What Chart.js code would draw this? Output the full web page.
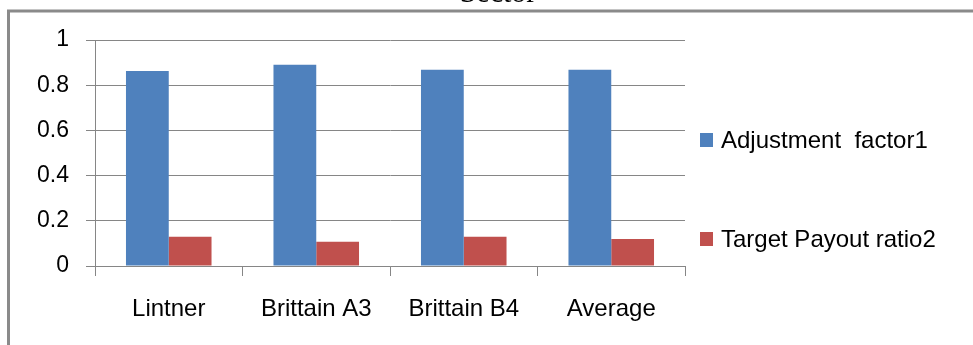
<!DOCTYPE html>
<html>
<head>
<meta charset="utf-8">
<script src="https://cdn.jsdelivr.net/npm/chart.js@4"></script>
<style>
  html, body { margin: 0; padding: 0; background: #fff; }
  #wrap { width: 973px; height: 345px; position: relative; overflow: hidden; }
</style>
</head>
<body>
<div id="wrap"><canvas id="c" width="973" height="345"></canvas></div>
<script>
// Dividend model estimates by method
const categories = ['Lintner', 'Brittain A3', 'Brittain B4', 'Average'];
const adjustmentFactor = [0.863, 0.89, 0.868, 0.868];
const targetPayout = [0.129, 0.107, 0.129, 0.12];
const seriesNames = ['Adjustment  factor1', 'Target Payout ratio2'];
const seriesColors = ['#4F81BD', '#C0504D'];
const yTicks = [0, 0.2, 0.4, 0.6, 0.8, 1];
const titleText = 'Sector';

const FONT = "'Liberation Sans', Arial, sans-serif";
const GRID = '#868686';

// Outer frame (top and left edges of the chart box)
const framePlugin = {
  id: 'frame',
  beforeDraw(chart) {
    const ctx = chart.ctx;
    ctx.save();
    ctx.strokeStyle = '#8a8a8a';
    ctx.lineWidth = 3;
    ctx.beginPath();
    ctx.moveTo(8.5, 345);
    ctx.lineTo(8.5, 11);
    ctx.lineTo(973, 11);
    ctx.stroke();
    ctx.restore();
  }
};

// Title and side legend built from the dataset labels / colours
const titleLegendPlugin = {
  id: 'titleLegend',
  afterDraw(chart) {
    const ctx = chart.ctx;
    ctx.save();
    ctx.fillStyle = '#000';
    ctx.font = "30px 'Liberation Serif', 'Times New Roman', serif";
    ctx.textAlign = 'center';
    ctx.textBaseline = 'alphabetic';
    ctx.fillText(titleText, 498, 2);

    const rows = [140, 239];
    ctx.font = '24px ' + FONT;
    ctx.textAlign = 'left';
    ctx.textBaseline = 'middle';
    chart.data.datasets.forEach((ds, i) => {
      const cy = rows[i];
      ctx.fillStyle = ds.backgroundColor;
      ctx.fillRect(700, cy - 7, 13, 14);
      ctx.fillStyle = '#000';
      ctx.fillText(ds.label, 721, cy + 1);
    });
    ctx.restore();
  }
};

new Chart(document.getElementById('c'), {
  type: 'bar',
  data: {
    labels: categories,
    datasets: [
      { label: seriesNames[0], data: adjustmentFactor, backgroundColor: seriesColors[0] },
      { label: seriesNames[1], data: targetPayout, backgroundColor: seriesColors[1] }
    ]
  },
  options: {
    responsive: false,
    animation: false,
    devicePixelRatio: 1,
    layout: { padding: { left: 0, right: 288, top: 40, bottom: 0 } },
    datasets: { bar: { categoryPercentage: 0.58, barPercentage: 1.0 } },
    plugins: {
      legend: { display: false },
      title: { display: false },
      tooltip: { enabled: false }
    },
    scales: {
      x: {
        grid: { offset: true, drawOnChartArea: false, drawTicks: true, tickLength: 10, color: GRID, lineWidth: 1 },
        border: { color: GRID, width: 1 },
        ticks: { font: { family: FONT, size: 24 }, color: '#000', padding: 19, maxRotation: 0 },
        afterFit(scale) { scale.height = 79; }
      },
      y: {
        min: 0,
        max: 1,
        afterBuildTicks(scale) { scale.ticks = yTicks.map(v => ({ value: v })); },
        grid: { color: GRID, lineWidth: 1, tickLength: 9 },
        border: { color: GRID, width: 1 },
        ticks: {
          font: { family: FONT, size: 23 }, color: '#000', padding: 17,
          callback: (v) => String(v)
        },
        afterFit(scale) { scale.width = 95; }
      }
    }
  },
  plugins: [framePlugin, titleLegendPlugin]
});
</script>
</body>
</html>
